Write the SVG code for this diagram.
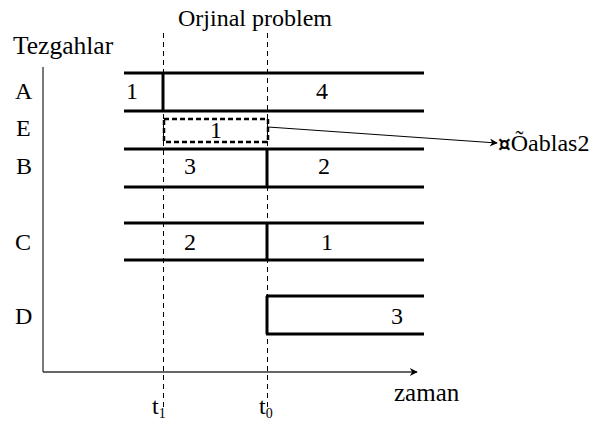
<svg xmlns="http://www.w3.org/2000/svg" width="604" height="421" viewBox="0 0 604 421">
<defs>
<style>
text{font-family:"Liberation Serif","Times New Roman",serif;font-size:24px;fill:#000}
.bar{stroke:#000;stroke-width:3;fill:none}
.guide{stroke:#000;stroke-width:1;stroke-dasharray:5,4;fill:none}
.axis{stroke:#333;stroke-width:1.3;fill:none}
</style>
<marker id="ah" viewBox="0 0 10 10" refX="9" refY="5" markerWidth="10" markerHeight="8" markerUnits="userSpaceOnUse" orient="auto"><path d="M0,0 L10,5 L0,10 L3,5 Z" fill="#000"/></marker>
</defs>
<rect width="604" height="421" fill="#fff"/>
<text x="178" y="26">Orjinal problem</text>
<text x="13" y="54" style="font-size:25.5px">Tezgahlar</text>
<g id="axes">
<line class="axis" x1="43" y1="67" x2="43" y2="372"/>
<line class="axis" x1="43" y1="372" x2="417" y2="372" marker-end="url(#ah)"/>
</g>
<g id="guides">
<line class="guide" x1="163.5" y1="33" x2="163.5" y2="410"/>
<line class="guide" x1="267.5" y1="33" x2="267.5" y2="410"/>
</g>
<g id="rowA">
<text x="15" y="99">A</text>
<line class="bar" x1="124" y1="73" x2="424" y2="73"/>
<line class="bar" x1="124" y1="111" x2="424" y2="111"/>
<line class="bar" x1="163" y1="73" x2="163" y2="111"/>
<text x="126" y="99">1</text>
<text x="316" y="99">4</text>
</g>
<g id="rowE">
<text x="16" y="136">E</text>
<rect x="164" y="119" width="104" height="23" fill="none" stroke="#000" stroke-width="2.5" stroke-dasharray="5,3"/>
<text x="210" y="138">1</text>
</g>
<g id="rowB">
<text x="16" y="174">B</text>
<line class="bar" x1="124" y1="149" x2="424" y2="149"/>
<line class="bar" x1="124" y1="187" x2="424" y2="187"/>
<line class="bar" x1="267" y1="149" x2="267" y2="187"/>
<text x="184" y="174">3</text>
<text x="318" y="174">2</text>
</g>
<g id="rowC">
<text x="15" y="250">C</text>
<line class="bar" x1="124" y1="223" x2="424" y2="223"/>
<line class="bar" x1="124" y1="260" x2="424" y2="260"/>
<line class="bar" x1="267" y1="223" x2="267" y2="260"/>
<text x="184" y="250">2</text>
<text x="321" y="250">1</text>
</g>
<g id="rowD">
<text x="15" y="324">D</text>
<line class="bar" x1="266" y1="296" x2="424" y2="296"/>
<line class="bar" x1="266" y1="334" x2="424" y2="334"/>
<line class="bar" x1="267" y1="296" x2="267" y2="334"/>
<text x="391" y="324">3</text>
</g>
<g id="connectors">
<line x1="268" y1="127" x2="497" y2="143" stroke="#000" stroke-width="1" marker-end="url(#ah)"/>
</g>
<g id="label2">
<text x="498" y="151"><tspan style="font-family:'DejaVu Serif',serif;font-size:20px;font-weight:bold">¤</tspan><tspan>Õablas2</tspan></text>
</g>
<text x="394" y="401" style="font-size:25px">zaman</text>
<text x="152" y="414">t<tspan font-size="14" dy="4">1</tspan></text>
<text x="259" y="414">t<tspan font-size="14" dy="4">0</tspan></text>
</svg>
